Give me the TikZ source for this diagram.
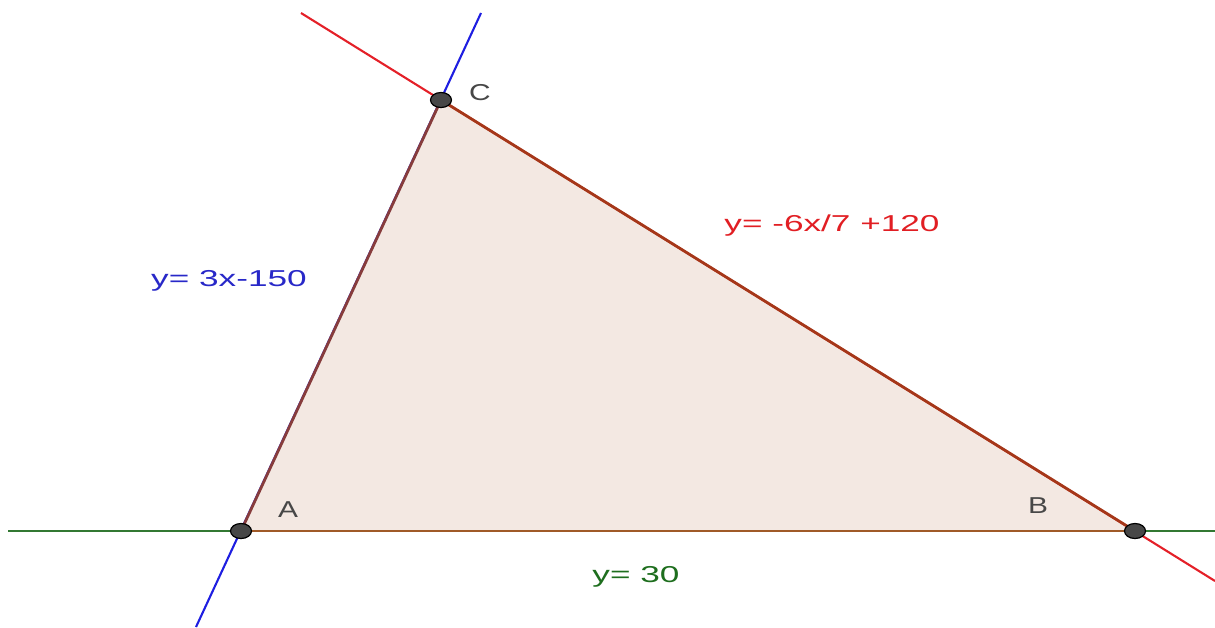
\documentclass[tikz,border=0pt]{standalone}
\usepackage{fontspec}
\setmainfont{Liberation Sans}
\usepackage{xcolor}
\usepackage{tikz}
\usetikzlibrary{shapes.geometric, positioning, backgrounds}

\definecolor{lnred}{RGB}{228,32,40}
\definecolor{lnblue}{RGB}{30,30,225}
\definecolor{lngreen}{RGB}{50,120,50}
\definecolor{txred}{RGB}{225,30,35}
\definecolor{txblue}{RGB}{40,40,200}
\definecolor{txgreen}{RGB}{30,110,30}
\definecolor{trifill}{RGB}{243,232,226}
\definecolor{edgeAC}{RGB}{135,60,60}
\definecolor{edgeCB}{RGB}{165,55,25}
\definecolor{edgeAB}{RGB}{160,90,40}

\begin{document}
\begin{tikzpicture}[
  x=1pt, y=-1pt,
  vertex/.style={ellipse, draw=black, line width=1.2pt, fill=black!72,
                 minimum width=21pt, minimum height=15pt, inner sep=0pt},
  vertlbl/.style={text=black!72, font=\fontsize{23}{27}\selectfont, inner sep=0pt},
  linelbl/.style={font=\fontsize{23}{27}\selectfont, inner sep=0pt},
  gline/.style={line width=2.1pt},
  side/.style={line width=2.8pt}
]
\useasboundingbox (0,0) rectangle (1215,627);

\node[vertex] (A) at (241,531) {};
\node[vertex] (B) at (1135,531) {};
\node[vertex] (C) at (441,100) {};

% free ends of the three lines
\coordinate (blueTop)  at (481,13);
\coordinate (blueBot)  at (196,627);
\coordinate (redTop)   at (301,13);
\coordinate (redEnd)   at (1215,581);
\coordinate (greenL)   at (8,531);
\coordinate (greenR)   at (1215,531);

\begin{scope}[on background layer]
  \fill[trifill] (A.center) -- (B.center) -- (C.center) -- cycle;
  \draw[gline, lnblue]  (blueBot) -- (blueTop);
  \draw[gline, lnred]   (redTop)  -- (redEnd);
  \draw[gline, lngreen] (greenL)  -- (greenR);
  \draw[side, edgeAC] (A.center) -- (C.center);
  \draw[side, edgeCB] (C.center) -- (B.center);
  \draw[side, edgeAB] (A.center) -- (B.center);
\end{scope}

\node[vertlbl] (labC) at (480,93)  {\scalebox{1.3}[1]{C}};
\node[vertlbl] (labA) at (288,510) {\scalebox{1.3}[1]{A}};
\node[vertlbl] (labB) at (1038,506) {\scalebox{1.3}[1]{B}};

\node[linelbl, text=txred]   (eqCB) at (832,226) {\scalebox{1.53}[1]{y= -6x/7 +120}};
\node[linelbl, text=txblue]  (eqAC) at (229,281) {\scalebox{1.53}[1]{y= 3x-150}};
\node[linelbl, text=txgreen] (eqAB) at (636,577) {\scalebox{1.53}[1]{y= 30}};

\end{tikzpicture}
\end{document}
